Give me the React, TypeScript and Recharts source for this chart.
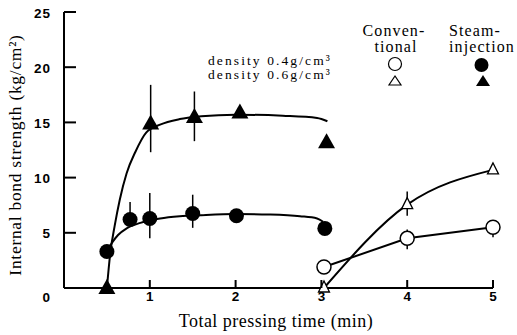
import { ComposedChart, Line, Scatter, XAxis, YAxis, ErrorBar } from 'recharts';

// steam-injection, density 0.4 g/cm3 (filled circles)
const steamLowX = [0.5, 0.77, 1.0, 1.5, 2.01, 3.04];
const steamLowY = [3.3, 6.2, 6.3, 6.75, 6.55, 5.4];
const steamLowErr = [[0, 0], [0.6, 1.6], [1.8, 2.3], [1.3, 1.7], [0, 0], [0, 0]];

// steam-injection, density 0.6 g/cm3 (filled triangles)
const steamHighX = [0.5, 1.01, 1.52, 2.05, 3.06];
const steamHighY = [0, 14.9, 15.5, 15.9, 13.2];
const steamHighErr = [[0, 0], [2.6, 3.5], [2.2, 2.3], [0, 0], [0, 0]];

// conventional, density 0.4 (open circles)
const convLowX = [3.03, 4, 5];
const convLowY = [1.9, 4.5, 5.5];
const convLowErr = [[0, 0], [1.0, 0.8], [0.9, 0.4]];

// conventional, density 0.6 (open triangles)
const convHighX = [3.03, 4, 5];
const convHighY = [0, 7.55, 10.7];
const convHighErr = [[0, 0], [1.0, 1.2], [0, 0]];

// fitted curves
const fitHighX = [0.5, 0.54, 0.59, 0.65, 0.73, 0.83, 0.96, 1.12, 1.35, 1.6, 2.0, 2.55, 2.95, 3.07];
const fitHighY = [0, 3.2, 5.6, 8.0, 10.4, 12.3, 14.1, 14.8, 15.3, 15.55, 15.7, 15.6, 15.4, 15.1];
const fitLowX = [0.5, 0.56, 0.63, 0.73, 0.89, 1.12, 1.35, 1.6, 2.0, 2.4, 2.75, 2.95, 3.02];
const fitLowY = [3.3, 4.1, 4.8, 5.4, 5.9, 6.3, 6.5, 6.6, 6.7, 6.65, 6.5, 6.3, 6.0];

const xTicks = [1, 2, 3, 4, 5];
const yTicks = [0, 5, 10, 15, 20, 25];

const pts = (xs: number[], ys: number[], errs?: number[][]) =>
  xs.map((x, i) => ({ x, y: ys[i], err: errs ? errs[i] : undefined }));

const serif = '"Liberation Serif", "DejaVu Serif", serif';
const bold = '"Liberation Sans", Arial, sans-serif';

const filledCircle = (p: any) => <circle cx={p.cx} cy={p.cy} r={7.5} fill="#000" />;
const openCircle = (p: any) => <circle cx={p.cx} cy={p.cy} r={7} fill="#fff" stroke="#000" strokeWidth={1.5} />;
const filledTri = (p: any) => (
  <polygon points={`${p.cx},${p.cy - 9} ${p.cx - 8.5},${p.cy + 6} ${p.cx + 8.5},${p.cy + 6}`} fill="#000" />
);
const openTri = (p: any) => (
  <polygon points={`${p.cx},${p.cy - 7} ${p.cx - 5.5},${p.cy + 4} ${p.cx + 5.5},${p.cy + 4}`} fill="#fff" stroke="#000" strokeWidth={1.3} />
);

const YTick = (props: any) => {
  const { x, y, payload } = props;
  const v = payload.value;
  return (
    <g>
      {v !== 0 && <line x1={x} y1={y} x2={x + 12} y2={y} stroke="#000" strokeWidth={2} />}
      <text x={x - 13} y={v === 0 ? y + 9 : y + 1} textAnchor="end" dominantBaseline="central"
        fontFamily={bold} fontWeight="bold" fontSize={13.5} letterSpacing={1} fill="#000">{v}</text>
    </g>
  );
};

const XTick = (props: any) => {
  const { x, y, payload } = props;
  return (
    <g>
      <line x1={x} y1={y} x2={x} y2={y - 8} stroke="#000" strokeWidth={2} />
      <text x={x} y={y + 8} textAnchor="middle" dominantBaseline="central"
        fontFamily={bold} fontWeight="bold" fontSize={13.5} fill="#000">{payload.value}</text>
    </g>
  );
};

export default function App() {
  return (
    <div style={{ position: 'absolute', left: 0, top: 0, width: 517, height: 335, background: '#fff' }}>
      <ComposedChart width={517} height={335} margin={{ top: 12, right: 24, bottom: 0, left: 0 }}>
        <XAxis type="number" dataKey="x" domain={[0, 5]} ticks={xTicks} height={47}
          axisLine={{ stroke: '#000', strokeWidth: 2 }} tickLine={false} tickSize={0} tickMargin={0} tick={<XTick />} />
        <YAxis type="number" dataKey="y" domain={[0, 25]} ticks={yTicks} width={64}
          axisLine={{ stroke: '#000', strokeWidth: 2 }} tickLine={false} tickSize={0} tickMargin={0} tick={<YTick />} />

        <Line data={pts(fitHighX, fitHighY)} dataKey="y" type="monotone" stroke="#000" strokeWidth={2} dot={false} isAnimationActive={false} />
        <Line data={pts(fitLowX, fitLowY)} dataKey="y" type="monotone" stroke="#000" strokeWidth={2} dot={false} isAnimationActive={false} />
        <Line data={pts(convLowX, convLowY)} dataKey="y" type="linear" stroke="#000" strokeWidth={2} dot={false} isAnimationActive={false} />
        <Line data={pts(convHighX, convHighY)} dataKey="y" type="monotone" stroke="#000" strokeWidth={2} dot={false} isAnimationActive={false} />

        <Scatter data={pts(steamLowX, steamLowY, steamLowErr)} shape={filledCircle} isAnimationActive={false}>
          <ErrorBar dataKey="err" direction="y" width={0} stroke="#000" strokeWidth={1.5} />
        </Scatter>
        <Scatter data={pts(steamHighX, steamHighY, steamHighErr)} shape={filledTri} isAnimationActive={false}>
          <ErrorBar dataKey="err" direction="y" width={0} stroke="#000" strokeWidth={1.5} />
        </Scatter>
        <Scatter data={pts(convLowX, convLowY, convLowErr)} shape={openCircle} isAnimationActive={false}>
          <ErrorBar dataKey="err" direction="y" width={0} stroke="#000" strokeWidth={1.5} />
        </Scatter>
        <Scatter data={pts(convHighX, convHighY, convHighErr)} shape={openTri} isAnimationActive={false}>
          <ErrorBar dataKey="err" direction="y" width={0} stroke="#000" strokeWidth={1.5} />
        </Scatter>
      </ComposedChart>

      <svg width={517} height={335} style={{ position: 'absolute', left: 0, top: 0, pointerEvents: 'none' }}>
        <text transform="translate(21,155) rotate(-90)" textAnchor="middle" fontFamily={serif} fontSize={17.5} letterSpacing={0.7} fill="#000">
          Internal bond strength (kg/cm²)
        </text>
        <text x={276} y={327} textAnchor="middle" fontFamily={serif} fontSize={18} letterSpacing={0.5} fill="#000">
          Total pressing time (min)
        </text>
        <g fontFamily={serif} fontSize={13.5} letterSpacing={2.1} fill="#000">
          <text x={208} y={65}>density 0.4g/cm³</text>
          <text x={208} y={79}>density 0.6g/cm³</text>
        </g>
        <g fontFamily={serif} fontSize={16} letterSpacing={1.1} fill="#000">
          <text x={394} y={36} textAnchor="middle">Conven-</text>
          <text x={396} y={52} textAnchor="middle">tional</text>
          <text x={449} y={36}>Steam-</text>
          <text x={449} y={52}>injection</text>
        </g>
        <circle cx={395} cy={64} r={6.5} fill="#fff" stroke="#000" strokeWidth={1.2} />
        <polygon points="395,76 389,85 401,85" fill="#fff" stroke="#000" strokeWidth={1.2} />
        <circle cx={481.5} cy={65} r={7} fill="#000" />
        <polygon points="483,75 476,86 490,86" fill="#000" />
      </svg>
    </div>
  );
}
